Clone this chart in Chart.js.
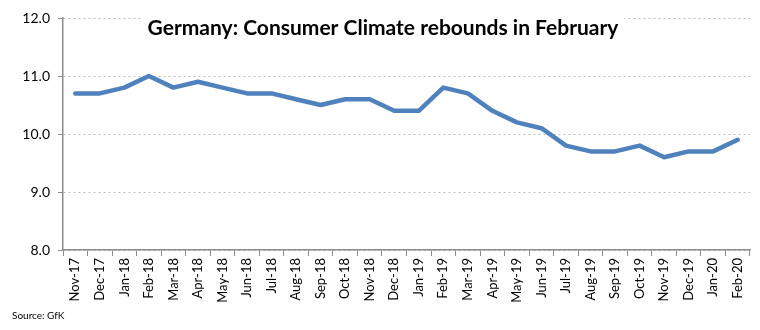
<!DOCTYPE html>
<html lang="en">
<head>
    <meta charset="UTF-8">
    <title>Germany: Consumer Climate</title>
    <script src="https://cdn.jsdelivr.net/npm/chart.js"></script>
    <style>
        html, body {
            margin: 0;
            padding: 0;
            background-color: white;
        }
        #wrap {
            width: 760px;
            height: 330px;
            position: relative;
        }
    </style>
</head>
<body>

    <div id="wrap">
        <canvas id="climateChart" width="760" height="330"></canvas>
    </div>

    <script>
        // GfK consumer climate index, monthly
        const months = [
            'Nov-17', 'Dec-17', 'Jan-18', 'Feb-18', 'Mar-18', 'Apr-18', 'May-18',
            'Jun-18', 'Jul-18', 'Aug-18', 'Sep-18', 'Oct-18', 'Nov-18', 'Dec-18',
            'Jan-19', 'Feb-19', 'Mar-19', 'Apr-19', 'May-19', 'Jun-19', 'Jul-19',
            'Aug-19', 'Sep-19', 'Oct-19', 'Nov-19', 'Dec-19', 'Jan-20', 'Feb-20'
        ];
        const climate = [
            10.7, 10.7, 10.8, 11.0, 10.8, 10.9, 10.8,
            10.7, 10.7, 10.6, 10.5, 10.6, 10.6, 10.4,
            10.4, 10.8, 10.7, 10.4, 10.2, 10.1, 9.8,
            9.7, 9.7, 9.8, 9.6, 9.7, 9.7, 9.9
        ];
        const yMin = 8;
        const yMax = 12;
        const yStep = 1;

        const chartTitle = 'Germany: Consumer Climate rebounds in February';
        const sourceNote = 'Source: GfK';

        const axisGray = '#8c8c8c';

        // title sits inside the plot area on a white box, source note below the axis labels
        const textPlugin = {
            id: 'textPlugin',
            afterDraw(chart) {
                const ctx = chart.ctx;
                ctx.save();
                ctx.font = 'bold 21px Lato, sans-serif';
                const w = ctx.measureText(chartTitle).width;
                ctx.fillStyle = '#fff';
                ctx.fillRect(383 - w / 2 - 6, 12, w + 12, 32);
                ctx.fillStyle = '#000';
                ctx.textAlign = 'center';
                ctx.textBaseline = 'middle';
                ctx.fillText(chartTitle, 383, 28);
                ctx.font = '10px Lato, sans-serif';
                ctx.textAlign = 'left';
                ctx.fillText(sourceNote, 12, 316);
                ctx.restore();
            }
        };

        new Chart(document.getElementById('climateChart').getContext('2d'), {
            type: 'line',
            data: {
                labels: months,
                datasets: [{
                    data: climate,
                    borderColor: '#4f81bd',
                    borderWidth: 4.5,
                    pointRadius: 0,
                    fill: false,
                    tension: 0,
                    borderCapStyle: 'round',
                    borderJoinStyle: 'round'
                }]
            },
            options: {
                responsive: false,
                animation: false,
                layout: {
                    padding: { left: 0, right: 10, top: 18, bottom: 0 }
                },
                plugins: {
                    legend: { display: false },
                    tooltip: { enabled: false }
                },
                scales: {
                    x: {
                        offset: true,
                        grid: {
                            offset: true,
                            drawOnChartArea: false,
                            color: axisGray,
                            tickLength: 6
                        },
                        border: { color: axisGray, width: 1.5 },
                        ticks: {
                            color: '#000',
                            font: { family: 'Lato', size: 13 },
                            maxRotation: 90,
                            minRotation: 90,
                            autoSkip: false,
                            padding: 2
                        },
                        afterFit(scale) { scale.height = 80; }
                    },
                    y: {
                        min: yMin,
                        max: yMax,
                        grid: {
                            color: '#bdbdbd',
                            tickColor: axisGray,
                            tickLength: 5,
                            drawTicks: true
                        },
                        // in v4 border.dash dashes the gridlines, the axis line stays solid
                        border: { color: axisGray, width: 1.5, dash: [2, 3] },
                        ticks: {
                            stepSize: yStep,
                            color: '#000',
                            font: { family: 'Lato', size: 14 },
                            padding: 8,
                            callback: v => v.toFixed(1)
                        },
                        afterFit(scale) { scale.width = 63; }
                    }
                }
            },
            plugins: [textPlugin]
        });
    </script>

</body>
</html>
